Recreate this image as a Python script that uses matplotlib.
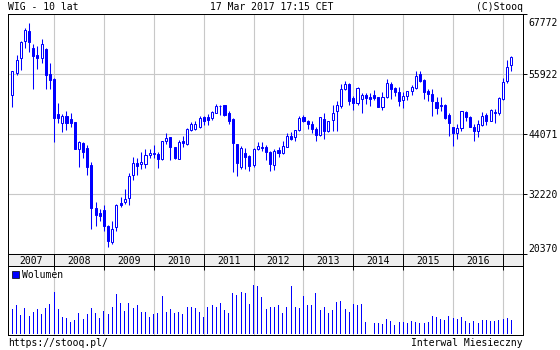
import numpy as np
import pandas as pd
import matplotlib
matplotlib.use("Agg")
import matplotlib.pyplot as plt
from matplotlib.patches import Patch
from matplotlib.transforms import ScaledTranslation, blended_transform_factory

# monthly candles, Mar 2007 .. Mar 2017
months = pd.date_range("2007-03-01", periods=121, freq="MS")

opens = [51707, 56185, 59015, 62373, 64348, 61056, 59674, 59015, 60925, 55855,
         54933, 48020, 46243, 47625, 47032, 46440, 41173, 42357, 41238, 38012,
         29387, 28400, 29058, 25898, 22803, 25634, 30507, 30704, 31362, 35905,
         38407, 38078, 38210, 39856, 40119, 40119, 39197, 42621, 43477, 41436,
         39197, 42753, 42094, 44926, 45123, 45518, 47362, 47362, 47230, 48283,
         49666, 49798, 48217, 46967, 42094, 37617, 40251, 39790, 38012, 41041,
         41436, 41568, 40580, 38012, 40975, 40251, 41568, 43674, 43411, 44794,
         47494, 46572, 46045, 45057, 43938, 46967, 44596, 46835, 48678, 49534,
         53024, 53946, 51180, 50127, 51049, 51839, 51444, 51707, 51312, 49468,
         51312, 53946, 53156, 52300, 50851, 51575, 52628, 53156, 55921, 54735,
         52497, 51970, 50325, 49863, 49863, 47888, 45386, 44201, 45255, 48349,
         47362, 45518, 44728, 45913, 47822, 46703, 48481, 48283, 50983, 54472,
         57698]
highs = [56580, 59740, 62373, 64941, 65994, 61846, 61451, 62768, 61122, 58027,
         55065, 50193, 48020, 48547, 48217, 46500, 42753, 42555, 41830, 38604,
         30572, 29255, 30045, 26161, 26819, 30243, 31692, 33206, 36300, 39461,
         39329, 40514, 41107, 41107, 41830, 40448, 42753, 44268, 43500, 41568,
         42884, 43740, 45189, 46373, 46703, 47690, 47690, 48020, 48678, 49995,
         49700, 49863, 48547, 47230, 42100, 41764, 41238, 39922, 41238, 42489,
         42423, 41897, 40777, 41107, 41436, 42621, 44268, 44399, 44800, 47625,
         47822, 46835, 46703, 45518, 47494, 48217, 46703, 49863, 50522, 53946,
         54604, 54077, 51641, 53419, 52168, 52168, 52102, 52760, 51312, 52300,
         54933, 54275, 53419, 53419, 52300, 52628, 53814, 56447, 56580, 54933,
         52958, 52958, 51312, 51312, 49995, 48151, 45518, 46045, 48678, 48547,
         47560, 46045, 46835, 48349, 48217, 49008, 49008, 51312, 55131, 58686,
         59542]
lows = [49337, 55724, 56777, 60990, 60332, 52958, 56908, 58159, 52958, 52958,
        42423, 46177, 44399, 44860, 45386, 41100, 37617, 39329, 35971, 25305,
        25964, 26951, 24976, 21816, 22342, 24976, 29716, 30243, 30111, 35049,
        36037, 37156, 37354, 39329, 39329, 37354, 39000, 42094, 39000, 39066,
        39197, 41436, 41897, 44728, 44926, 45320, 45913, 45913, 46835, 48151,
        47822, 47690, 46045, 36564, 35840, 37090, 37156, 36827, 37617, 40909,
        40646, 39000, 36827, 37024, 39461, 40119, 41436, 42884, 42753, 44596,
        46373, 45057, 44201, 42753, 43740, 43148, 44530, 44728, 44728, 49205,
        52826, 49863, 48875, 49863, 48217, 49995, 49666, 50786, 49468, 48875,
        51180, 50983, 51641, 49666, 49205, 50851, 51773, 52958, 54406, 50983,
        50522, 47690, 48020, 48678, 47032, 43608, 41765, 43082, 44596, 46703,
        45386, 42753, 43411, 45716, 45847, 46572, 46177, 47888, 50786, 54143,
        56447]
closes = [56447, 58686, 62175, 64612, 62175, 59410, 59147, 61780, 55657, 54670,
          47230, 47164, 47560, 46243, 46243, 41173, 42555, 40580, 37617, 29387,
          28136, 27873, 25832, 23001, 25239, 29979, 30111, 31165, 35708, 38275,
          37749, 38604, 39922, 40251, 40317, 39066, 42621, 43214, 41568, 39395,
          42489, 42226, 44992, 46045, 45979, 47164, 46703, 46835, 48349, 49534,
          49534, 47822, 46703, 42226, 38407, 41238, 39593, 37815, 41107, 41634,
          41370, 40448, 38144, 40777, 40251, 41634, 43674, 43148, 44794, 47164,
          46572, 46045, 44992, 43938, 47362, 44596, 46572, 48283, 49798, 52892,
          53946, 50654, 50259, 53156, 51773, 51180, 50917, 51180, 49468, 51312,
          54077, 53024, 52365, 50654, 51641, 52497, 53287, 55526, 54604, 52431,
          51970, 50522, 49205, 49534, 47230, 46177, 44201, 45189, 48547, 47362,
          45518, 44596, 46045, 47560, 46703, 48810, 48151, 51180, 54275, 57238,
          59213]
volumes = [74, 86, 56, 77, 53, 65, 74, 59, 77, 89,
           125, 74, 50, 47, 35, 41, 62, 44, 59, 77,
           62, 47, 68, 59, 80, 119, 92, 68, 92, 77,
           86, 65, 65, 50, 59, 62, 113, 65, 74, 62,
           65, 59, 80, 80, 77, 65, 50, 80, 86, 80,
           92, 71, 62, 122, 116, 125, 122, 89, 146, 143,
           110, 74, 80, 80, 86, 62, 80, 143, 80, 77,
           113, 86, 86, 122, 71, 80, 62, 71, 95, 98,
           74, 65, 89, 86, 89, 35, 41, 32, 32, 29,
           44, 38, 26, 35, 35, 32, 38, 35, 32, 32,
           35, 53, 50, 44, 41, 53, 47, 44, 50, 38,
           32, 38, 32, 41, 41, 38, 38, 41, 44, 47,
           41]
price_ticks = [20370, 32220, 44071, 55922, 67772]
price_labels = ["20370", "32220", "44071", "55922", "67772"]

BLUE = "#0000ff"
GRID = "#c8c8c8"
plt.rcParams["font.family"] = "DejaVu Sans Mono"
plt.rcParams["font.size"] = 7

W, H = 560, 350


def box(x0, y0, x1, y1):
    return [x0 / W, 1 - y1 / H, (x1 - x0) / W, (y1 - y0) / H]


fig = plt.figure(figsize=(W / 100, H / 100), dpi=100)
ax = fig.add_axes(box(8, 14, 523, 254))
band = fig.add_axes(box(8, 254, 523, 266), sharex=ax)
axv = fig.add_axes(box(8, 266, 523, 335), sharex=ax)

x = np.arange(len(months))
o, h, l, c = map(np.array, (opens, highs, lows, closes))
up = c >= o
jan = x[months.month == 1]
xlim = (-1.07, 122.8)

# candles
ax.vlines(x, l, h, color=BLUE, lw=0.75, zorder=2, snap=True)
ax.bar(x[up], np.maximum(c - o, 1)[up], bottom=o[up], width=0.5,
       facecolor="white", edgecolor=BLUE, lw=0.72, zorder=3)
ax.bar(x[~up], (o - c)[~up], bottom=c[~up], width=0.5,
       facecolor=BLUE, edgecolor=BLUE, lw=0.72, zorder=3)
ax.set_xlim(*xlim)
ax.set_ylim(price_ticks[0], price_ticks[-1])
ax.set_xticks(jan)
ax.set_yticks(price_ticks, price_labels)
ax.grid(color=GRID, lw=0.8, zorder=0)
ax.set_axisbelow(True)
ax.tick_params(axis="x", length=0, labelbottom=False)
ax.tick_params(axis="y", left=False, labelleft=False, right=True, labelright=True,
               length=3, width=0.7, pad=1)
for t in ax.yaxis.get_major_ticks():
    lab = t.label2
    if lab.get_text() == price_labels[-1]:
        lab.set_transform(lab.get_transform() + ScaledTranslation(0, -0.085, fig.dpi_scale_trans))
    elif lab.get_text() == price_labels[0]:
        lab.set_transform(lab.get_transform() + ScaledTranslation(0, 0.065, fig.dpi_scale_trans))

# year band
band.set_facecolor("#eeeeee")
band.set_xticks(jan)
band.set_yticks([])
band.grid(axis="x", color="black", lw=0.7)
band.tick_params(axis="x", length=0, labelbottom=False)
bt = blended_transform_factory(band.transData, band.transAxes)
starts = [xlim[0]] + list(jan[:-1])
ends = list(jan)
for yr, s, e in zip(range(2007, 2017), starts, ends):
    band.text((s + e) / 2, 0.45, str(yr), transform=bt, ha="center", va="center")

# volume
axv.bar(x, volumes, width=0.24, color=BLUE, lw=0, zorder=2)
axv.set_ylim(-4, 203)
axv.set_xticks(jan)
axv.set_yticks([])
axv.grid(axis="x", color=GRID, lw=0.8, zorder=0)
axv.set_axisbelow(True)
axv.tick_params(axis="x", direction="in", length=3, width=0.7, top=True,
                bottom=False, labelbottom=False)
axv.legend(handles=[Patch(facecolor=BLUE, edgecolor="black", lw=0.5, label="Wolumen")],
           loc="upper left", frameon=False, handlelength=0.7, handleheight=0.7,
           handletextpad=0.3, borderaxespad=0.1, borderpad=0.3, fontsize=7)

for a in (ax, band, axv):
    for sp in a.spines.values():
        sp.set_linewidth(0.72)

fig.text(8 / W, 1 - 7 / H, "WIG - 10 lat", ha="left", va="center")
fig.text(272 / W, 1 - 7 / H, "17 Mar 2017 17:15 CET", ha="center", va="center")
fig.text(523 / W, 1 - 7 / H, "(C)Stooq", ha="right", va="center")
fig.text(8 / W, 1 - 342.5 / H, "https://stooq.pl/", ha="left", va="center")
fig.text(523 / W, 1 - 342.5 / H, "Interwal Miesieczny", ha="right", va="center")

fig.savefig("out.png", dpi=100)
